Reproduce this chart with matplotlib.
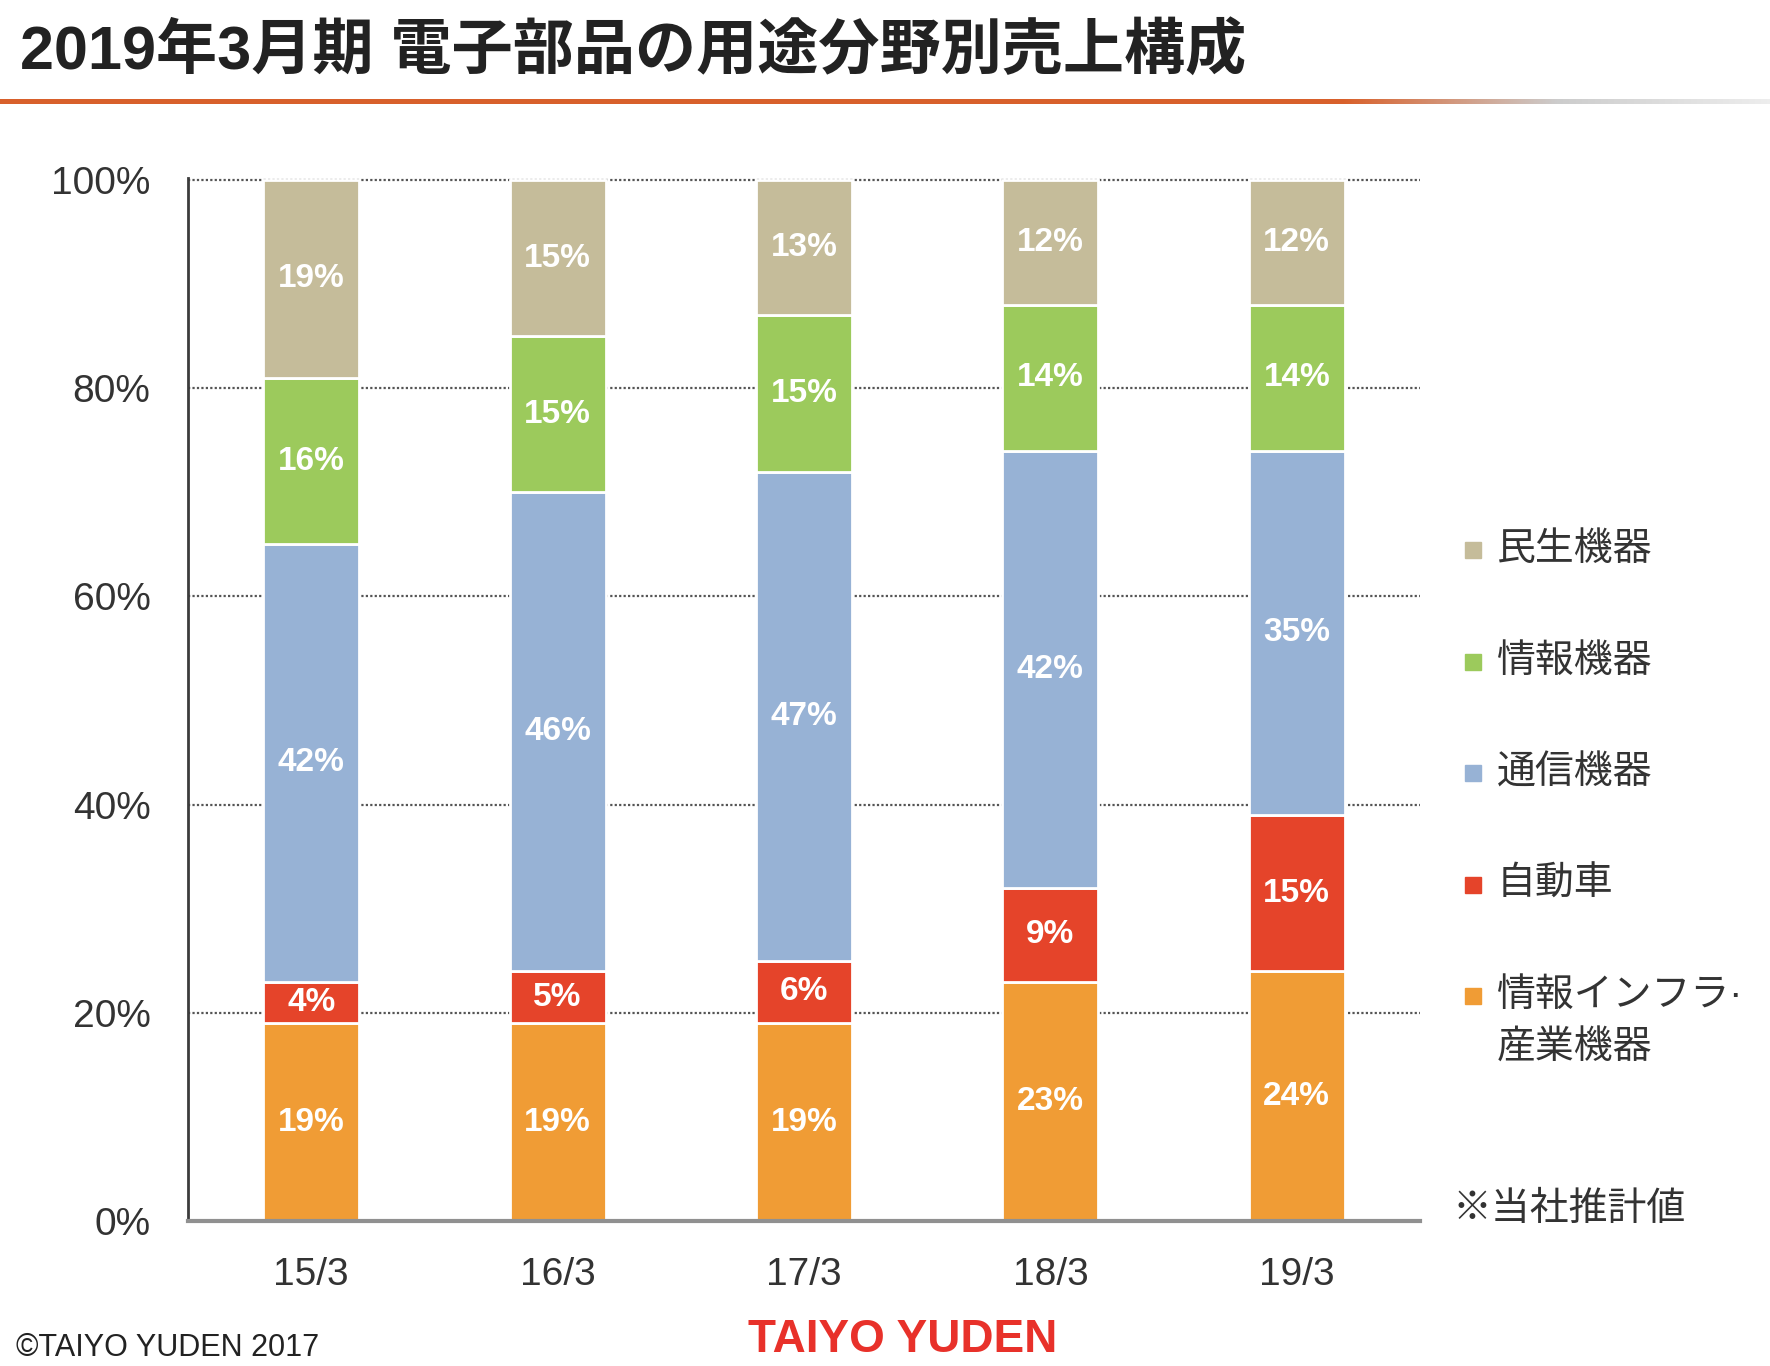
import numpy as np
import matplotlib.pyplot as plt
from matplotlib.patches import Rectangle

plt.rcParams['font.family'] = ['Liberation Sans', 'Noto Sans CJK JP', 'DejaVu Sans']

# data (percent of sales)
years = ['15/3', '16/3', '17/3', '18/3', '19/3']
segments = ['情報インフラ·\n産業機器', '自動車', '通信機器', '情報機器', '民生機器']
infra = [19, 19, 19, 23, 24]
auto = [4, 5, 6, 9, 15]
telecom = [42, 46, 47, 42, 35]
info = [16, 15, 15, 14, 14]
consumer = [19, 15, 13, 12, 12]
yticks = [0, 20, 40, 60, 80, 100]

colors = ['#F09C35', '#E5442A', '#97B2D5', '#9CCA5C', '#C5BC9A']
W, H = 1770, 1366

def fx(px):
    return px / W

def fy(py):
    return 1 - py / H

fig = plt.figure(figsize=(W / 100, H / 100), dpi=100)
ax = fig.add_axes([fx(188), fy(1221), fx(1420) - fx(188), fy(178) - fy(1221)])

x = np.arange(len(years))
bottom = np.zeros(len(years))
for vals, c in zip([infra, auto, telecom, info, consumer], colors):
    bars = ax.bar(x, vals, 0.39, bottom=bottom, color=c, edgecolor='white',
                  linewidth=2, zorder=3)
    ax.bar_label(bars, labels=[f'{v}%' for v in vals], label_type='center',
                 color='white', fontsize=24, fontweight='bold', zorder=4)
    bottom += np.array(vals)

ax.set_xlim(-0.5, len(years) - 0.5)
ax.set_ylim(0, 100.2)
ax.set_xticks(x)
ax.set_xticklabels(years, fontsize=28, color='#333333')
ax.set_yticks(yticks)
ax.set_yticklabels([f'{t}%' for t in yticks], fontsize=28, color='#333333')
ax.tick_params(axis='both', length=0)
ax.tick_params(axis='y', pad=27)
ax.tick_params(axis='x', pad=26)
ax.yaxis.grid(True, linestyle=(0, (1, 1)), color='#555555', linewidth=1.6)
ax.set_axisbelow(True)
for s in ['top', 'right']:
    ax.spines[s].set_visible(False)
ax.spines['left'].set_color('#3c3c3c')
ax.spines['left'].set_linewidth(2)
ax.spines['bottom'].set_color('#909090')
ax.spines['bottom'].set_linewidth(3)
ax.spines['bottom'].set_zorder(5)

# title and rule under it
fig.text(fx(20), fy(52), '2019年3月期 電子部品の用途分野別売上構成', fontsize=44,
         fontweight='bold', color='#222222', va='center', ha='left')
lax = fig.add_axes([0, fy(104), 1, (fy(99) - fy(104))])
t = np.linspace(0, 1, 600)
orange = np.array([0.85, 0.38, 0.17])
grey = np.array([0.80, 0.80, 0.80])
mix = np.clip((t - 0.76) / 0.12, 0, 1)[:, None]
grad = orange * (1 - mix) + grey * mix
fade = np.clip((t - 0.88) / 0.12, 0, 1)[:, None]
grad = grad * (1 - fade) + np.array([0.93, 0.93, 0.93]) * fade
lax.imshow(grad[None, :, :], aspect='auto', extent=[0, 1, 0, 1])
lax.set_axis_off()

# legend, top to bottom
for i, (name, c) in enumerate(zip(segments[::-1], colors[::-1])):
    yc = 550 + 111.5 * i
    fig.patches.append(Rectangle((fx(1465), fy(yc + 8)), fx(16), 16 / H,
                                 color=c, transform=fig.transFigure))
    for j, line in enumerate(name.split('\n')):
        fig.text(fx(1497), fy(yc + 53 * j), line, fontsize=28, color='#333333',
                 va='center', ha='left')

fig.text(fx(1453), fy(1210), '※当社推計値', fontsize=28, color='#333333',
         va='center', ha='left')

# footer
fig.text(fx(16), fy(1348), '©TAIYO YUDEN 2017', fontsize=22, color='#222222',
         va='center', ha='left')
fig.text(fx(903), fy(1340), 'TAIYO YUDEN', fontsize=33, fontweight='bold',
         color='#E8312A', va='center', ha='center')

fig.savefig('out.png', dpi=100)
